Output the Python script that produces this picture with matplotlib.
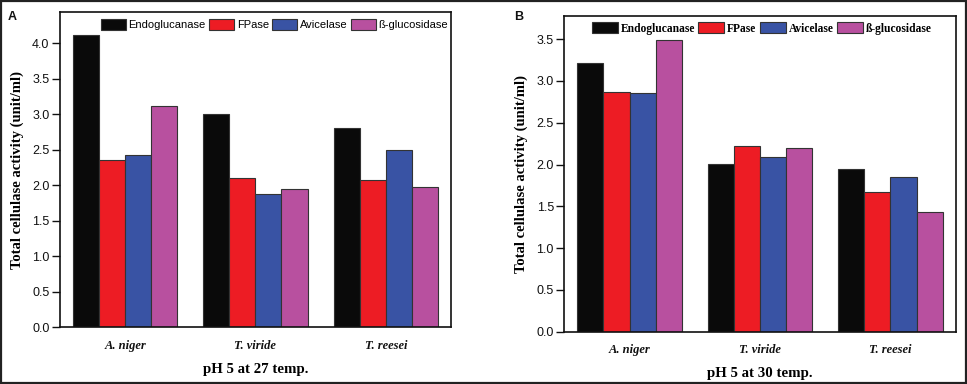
import numpy as np
import matplotlib
matplotlib.use('Agg')
import matplotlib.pyplot as plt
from matplotlib.patches import Rectangle

# data
species = ['A. niger', 'T. viride', 'T. reesei']
enzymes = ['Endoglucanase', 'FPase', 'Avicelase', 'ß-glucosidase']
colors = ['#0a0a0a', '#ed1c24', '#3953a4', '#b8509f']

endo_27 = [4.12, 3.00, 2.80]
fpase_27 = [2.35, 2.10, 2.07]
avic_27 = [2.43, 1.87, 2.50]
bglu_27 = [3.11, 1.94, 1.98]

endo_30 = [3.21, 2.01, 1.95]
fpase_30 = [2.87, 2.22, 1.67]
avic_30 = [2.85, 2.09, 1.85]
bglu_30 = [3.49, 2.20, 1.43]

SANS = 'Liberation Sans'
SERIF = 'Liberation Serif'

fig = plt.figure(figsize=(9.67, 3.84), dpi=100)
fig.patches.append(Rectangle((0.0015, 0.003), 0.997, 0.994, transform=fig.transFigure,
                             fill=False, edgecolor='#222222', linewidth=1.6))


def panel(rect, series, ymax, yticks, xlabel, letter, letter_xy, leg_x, leg_font):
    ax = fig.add_axes(rect)
    x = np.arange(1, len(species) + 1)
    w = 0.2
    for i, (vals, name) in enumerate(zip(series, enzymes)):
        ax.bar(x + (i - 1.5) * w, vals, w, color=colors[i], edgecolor='#333333',
               linewidth=0.8, label=name)
    ax.set_xlim(0.5, 3.5)
    ax.set_ylim(0, ymax)
    ax.set_yticks(yticks)
    ax.set_yticklabels(['%.1f' % t for t in yticks], fontfamily=SANS, fontsize=9)
    ax.set_xticks(x)
    ax.set_xticklabels(species, fontfamily=SERIF, fontstyle='italic',
                       fontweight='bold', fontsize=9)
    ax.tick_params(axis='y', direction='out', length=5.5, width=1, pad=2, colors='#111111')
    ax.tick_params(axis='x', length=0, pad=9, colors='#111111')
    for s in ax.spines.values():
        s.set_linewidth(1.2)
        s.set_color('#111111')
    ax.set_xlabel(xlabel, fontfamily=SERIF, fontweight='bold', fontsize=10.7, labelpad=8)
    ax.set_ylabel('Total cellulase activity (unit/ml)', fontfamily=SERIF,
                  fontweight='bold', fontsize=10.5, labelpad=6)
    ax.legend(loc='center left', bbox_to_anchor=(leg_x, 0.96), ncol=4, frameon=False,
              prop=leg_font, handlelength=2.25, handleheight=1.1, handletextpad=0.25,
              columnspacing=0.3, borderpad=0, borderaxespad=0)
    fig.text(letter_xy[0], letter_xy[1], letter, fontfamily=SANS, fontweight='bold',
             fontsize=9, color='#111111', ha='center', va='center')
    return ax


panel([0.0620, 0.1484, 0.4043, 0.8203], [endo_27, fpase_27, avic_27, bglu_27],
      4.44, np.arange(0, 4.01, 0.5), 'pH 5 at 27 temp.', 'A', (12 / 967, 1 - 17 / 384),
      0.104, {'family': SANS, 'size': 8})

panel([0.5836, 0.1362, 0.4047, 0.8229], [endo_30, fpase_30, avic_30, bglu_30],
      3.78, np.arange(0, 3.51, 0.5), 'pH 5 at 30 temp.', 'B', (519 / 967, 1 - 17 / 384),
      0.070, {'family': SERIF, 'weight': 'bold', 'size': 8.3})

fig.savefig('out.png', dpi=100)
